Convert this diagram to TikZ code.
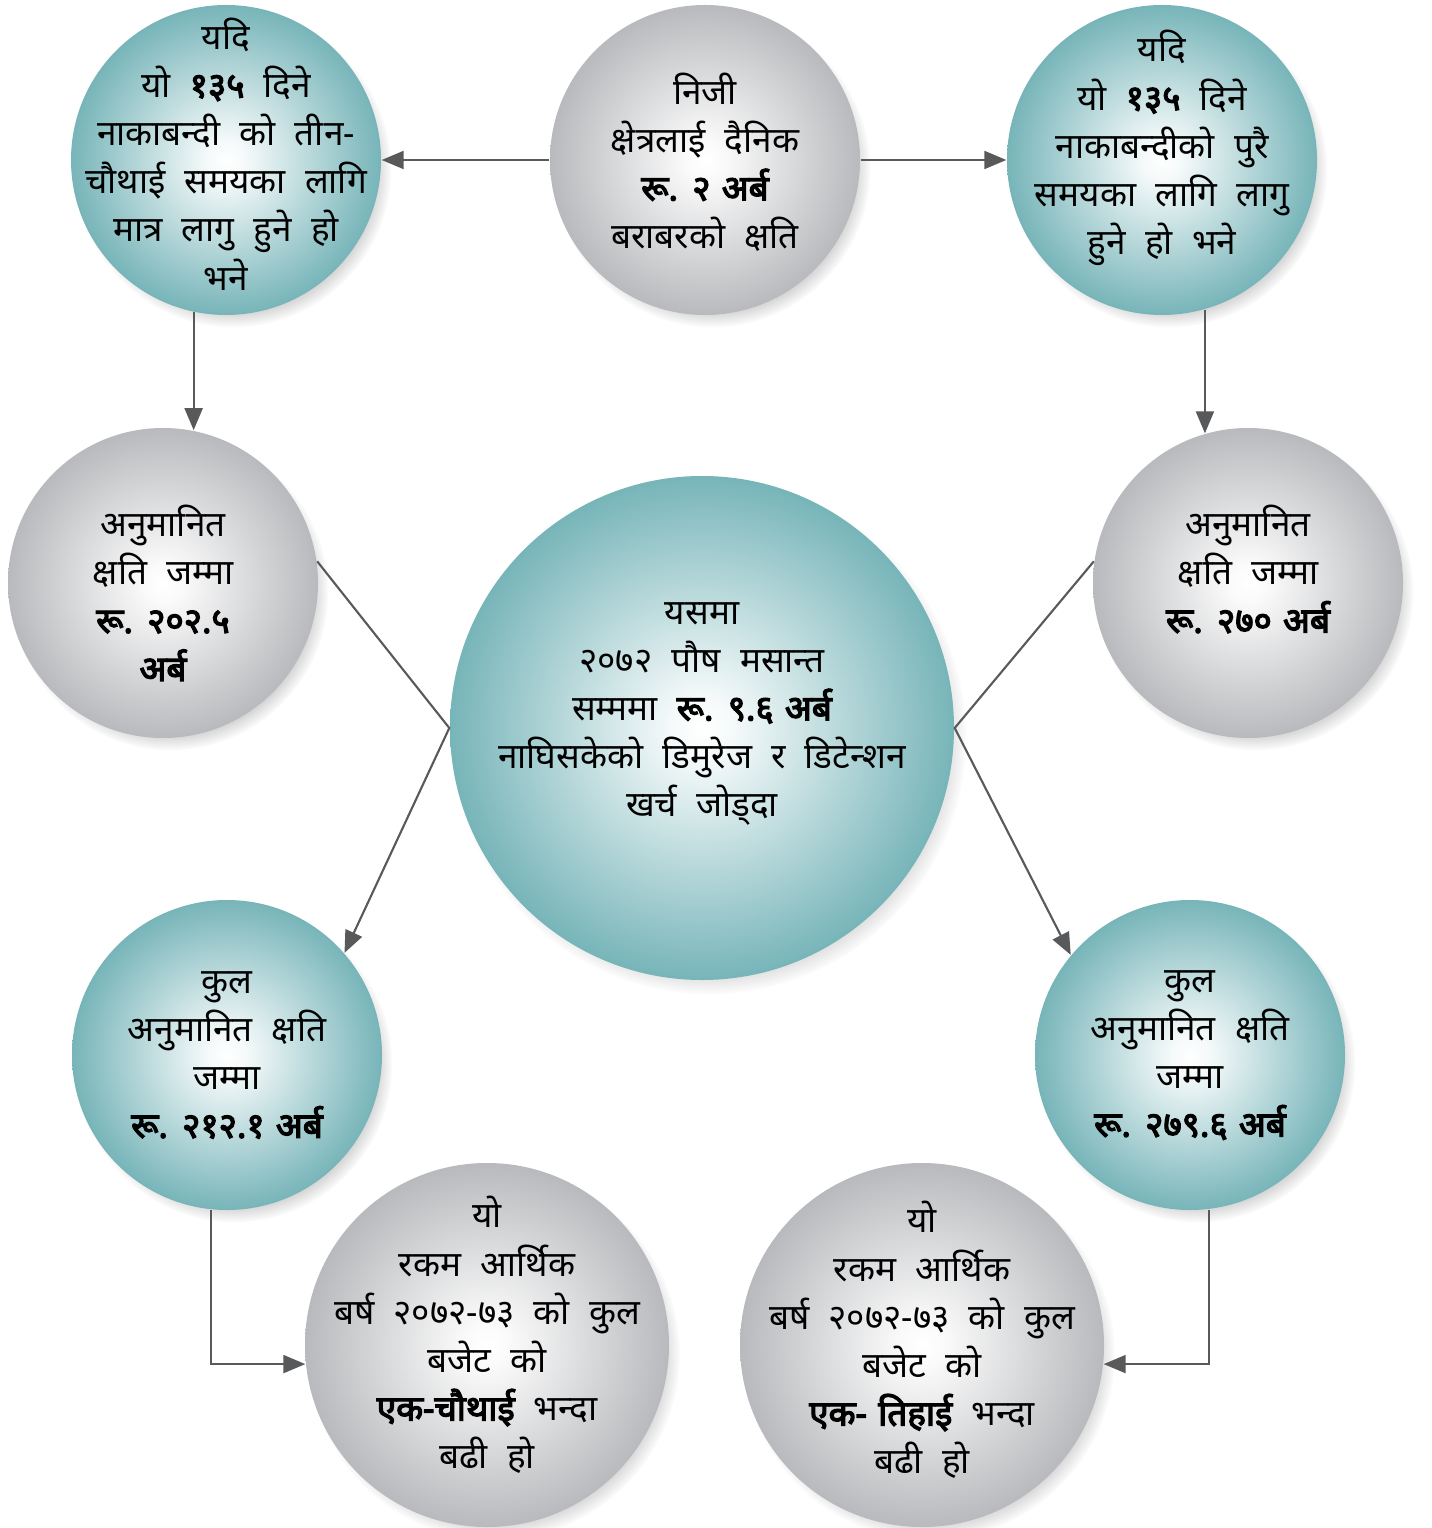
\documentclass[tikz,border=0pt]{standalone}
\usepackage{fontspec}
\setmainfont[Script=Devanagari, WordSpace=2.1, BoldFont={Noto Sans}, BoldFeatures={FakeBold=3.5}]{Noto Sans}
\usetikzlibrary{arrows.meta, shadows}

\definecolor{tealc}{RGB}{96,168,173}
\definecolor{greyc}{RGB}{160,162,166}
\definecolor{linegrey}{RGB}{88,89,91}

\pgfdeclareradialshading{ballteal}{\pgfpoint{0bp}{0bp}}{color(0bp)=(white); color(3bp)=(white!94!tealc); color(29bp)=(tealc); color(50bp)=(tealc!92!black)}
\pgfdeclareradialshading{ballgrey}{\pgfpoint{0bp}{0bp}}{color(0bp)=(white); color(3bp)=(white!95!greyc); color(33bp)=(greyc); color(50bp)=(greyc!88!black)}

% bold amounts, set with tighter spaces
\newcommand\amt[1]{{\bfseries\spaceskip=0.32em\relax #1}}

\begin{document}
\begin{tikzpicture}[
  every node/.style={align=center},
  % Balls - radial shaded circles with a soft shadow
  ball/.style={circle, minimum size=3.1cm, inner sep=0pt, shade, circular drop shadow={shadow xshift=0.7mm, shadow yshift=-0.9mm, shadow scale=1.02, opacity=0.5}},
  tealball/.style={ball, shading=ballteal},
  greyball/.style={ball, shading=ballgrey},
  bigball/.style={minimum size=3.64cm},
  % Texts inside the balls
  txt/.style={inner sep=0pt, font=\fontsize{10}{13.7}\selectfont},
  % Connectors
  link/.style={-{Triangle[length=2.2mm, width=1.8mm]}, line width=0.6pt, draw=linegrey}
]

\path[use as bounding box, fill=white] (0,0) rectangle (14.31,-15.28);

% === BALLS ===

% Top row
\node[tealball] (tl) at (2.26,-1.60) {};
\node[greyball] (tg) at (7.05,-1.60) {};
\node[tealball] (tr) at (11.62,-1.60) {};

% Middle row
\node[greyball] (ml) at (1.63,-5.83) {};
\node[tealball, minimum size=5.04cm] (ctr) at (7.02,-7.28) {};
\node[greyball] (mr) at (12.48,-5.83) {};

% Totals
\node[tealball] (bl) at (2.27,-10.55) {};
\node[tealball] (br) at (11.90,-10.55) {};

% Budget share
\node[greyball, bigball] (gbl) at (4.87,-13.45) {};
\node[greyball, bigball] (gbr) at (9.22,-13.45) {};

% === TEXTS ===

\node[txt] (tl-t) at ([yshift=0.06cm]tl) {यदि\\यो \amt{१३५} दिने\\नाकाबन्दी को तीन-\\चौथाई समयका लागि\\मात्र लागु हुने हो\\भने};
\node[txt] (tg-t) at ([yshift=-0.02cm]tg) {निजी\\क्षेत्रलाई दैनिक\\\amt{रू. २ अर्ब}\\बराबरको क्षति};
\node[txt] (tr-t) at ([yshift=0.12cm]tr) {यदि\\यो \amt{१३५} दिने\\नाकाबन्दीको पुरै\\समयका लागि लागु\\हुने हो भने};
\node[txt] (ml-t) at ([yshift=-0.1cm]ml) {अनुमानित\\क्षति जम्मा\\\amt{रू. २०२.५}\\\amt{अर्ब}};
\node[txt] (ctr-t) at ([yshift=0.14cm]ctr) {यसमा\\२०७२ पौष मसान्त\\सम्ममा \amt{रू. ९.६ अर्ब}\\नाघिसकेको डिमुरेज र डिटेन्शन\\खर्च जोड्दा};
\node[txt] (mr-t) at ([yshift=0.14cm]mr) {अनुमानित\\क्षति जम्मा\\\amt{रू. २७० अर्ब}};
\node[txt] (bl-t) at (bl) {कुल\\अनुमानित क्षति\\जम्मा\\\amt{रू. २१२.१ अर्ब}};
\node[txt] (br-t) at (br) {कुल\\अनुमानित क्षति\\जम्मा\\\amt{रू. २७९.६ अर्ब}};
\node[txt] (gbl-t) at ([yshift=0.1cm]gbl) {यो\\रकम आर्थिक\\बर्ष २०७२-७३ को कुल\\बजेट को\\\amt{एक-चौथाई} भन्दा\\बढी हो};
\node[txt] (gbr-t) at ([yshift=0.05cm]gbr) {यो\\रकम आर्थिक\\बर्ष २०७२-७३ को कुल\\बजेट को\\\amt{एक- तिहाई} भन्दा\\बढी हो};

% === CONNECTORS ===

% Daily loss -> both scenarios
\draw[link] (tg.west) -- (tl.east);
\draw[link] (tg.east) -- (tr.west);

% Scenario -> estimated loss
\draw[link] (tl.258) -- (tl.258 |- ml.79);
\draw[link] (tr.286) -- (tr.286 |- mr.106);

% Estimated loss + demurrage -> total
\draw[link] (ml.8) -- (ctr.west) -- (bl.41);
\draw[link] (mr.172) -- (ctr.east) -- (br.140);

% Total -> share of budget
\draw[link] (bl.264) |- (gbl.186);
\draw[link] (br.277) |- (gbr.354);

\end{tikzpicture}
\end{document}
